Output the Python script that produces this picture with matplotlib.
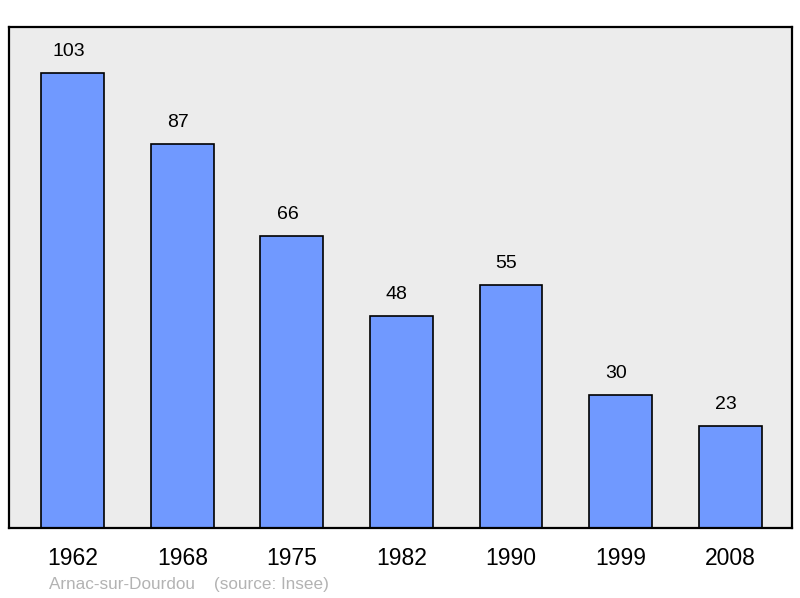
import numpy as np
import matplotlib.pyplot as plt

years = ["1962", "1968", "1975", "1982", "1990", "1999", "2008"]
population = [103, 87, 66, 48, 55, 30, 23]
footer = "Arnac-sur-Dourdou    (source: Insee)"

plt.rcParams['font.family'] = ['Liberation Sans', 'DejaVu Sans']

fig = plt.figure(figsize=(8, 5.98), dpi=100)
ax = fig.add_axes([9/800, 70/598, 783/800, 501/598])
ax.set_facecolor('#ececec')

x = np.arange(len(years))
bars = ax.bar(x, population, width=0.575, color='#7099ff', edgecolor='black', linewidth=1.2)

# value labels sit a little left of the bar centre, like the original
for xi, v in zip(x, population):
    ax.annotate(str(v), (xi, v), xytext=(-3.3, 15.5), textcoords='offset points',
                ha='center', va='center', fontsize=14, color='black')

ax.set_xlim(-0.584, 6.566)
ax.set_ylim(0, 113.4)
ax.set_xticks(x)
ax.set_xticklabels(years, fontsize=16.5)
ax.tick_params(axis='x', length=0, pad=14)
ax.set_yticks([])
for s in ax.spines.values():
    s.set_linewidth(1.6)
    s.set_color('black')

fig.text(49/800, 1 - 584/598, footer, fontsize=12.3, color='#b3b3b3', ha='left', va='center')

fig.savefig('out.png', dpi=100)
